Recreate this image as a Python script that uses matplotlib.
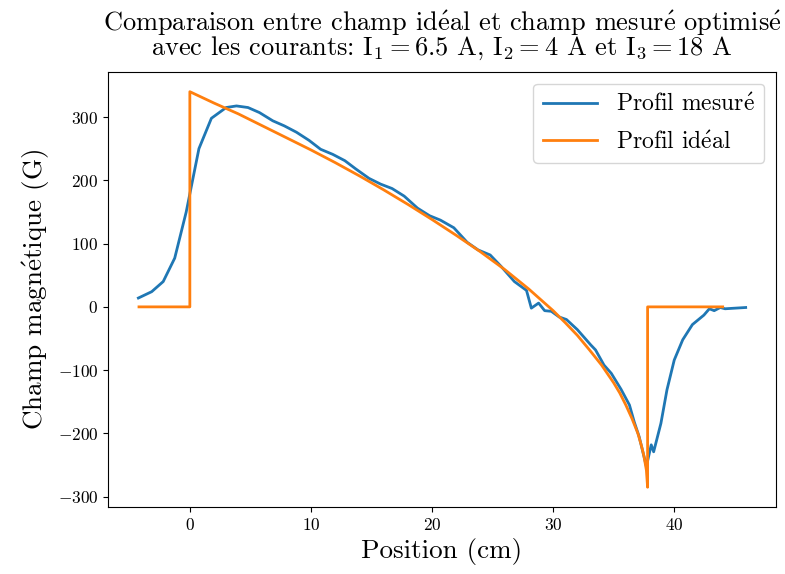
import matplotlib
matplotlib.use("Agg")
import matplotlib.pyplot as plt

plt.rcParams['font.family'] = ['cmr10', 'DejaVu Serif']
plt.rcParams['mathtext.fontset'] = 'cm'
plt.rcParams['axes.formatter.use_mathtext'] = True

# profil mesuré (position en cm, champ en G)
pos_mesure = [-4.25, -3.15, -2.2, -1.25, -0.3, 0.75, 1.78, 3.0, 3.85, 4.8,
              5.75, 6.85, 7.8, 8.8, 9.85, 10.8, 11.8, 12.8, 13.7, 14.8,
              15.75, 16.7, 17.7, 18.8, 19.8, 20.7, 21.8, 22.9, 23.8, 24.8,
              25.7, 26.8, 27.8, 28.2, 28.8, 29.3, 29.85, 30.5, 31.1, 32.0,
              33.1, 33.5, 34.2, 34.8, 35.6, 36.3, 36.7, 37.1, 37.7, 38.1,
              38.3, 38.9, 39.4, 40.0, 40.7, 41.5, 42.45, 42.9, 43.3, 43.8,
              44.2, 45.9]
champ_mesure = [14, 24, 40, 77, 150, 250, 298, 315, 317.5, 315,
                307, 294, 286, 276, 263, 249, 241, 231, 218, 203,
                194, 187, 175, 156, 144, 137, 125, 102, 90, 82,
                64, 40, 26, -2, 6, -6, -7, -16, -20, -36,
                -60, -68, -92, -105, -130, -155, -182, -205, -252, -218,
                -229, -184, -131, -84, -52, -28, -13, -3, -6, -1,
                -3, -1]

# profil idéal
pos_ideal = [-4.2, 0, 0, 2, 4, 6, 8, 10, 12, 14, 16, 18, 20, 22, 24, 26, 28,
             30, 31, 32, 33, 34, 35, 35.5, 36, 36.5, 37, 37.3, 37.5, 37.7,
             37.8, 37.8, 44.0]
champ_ideal = [0, 0, 340, 322, 305, 286, 267, 248, 228, 207, 185, 162, 138,
               113, 87, 59, 28, -6, -25, -45, -68, -92, -120, -136, -155,
               -176, -200, -220, -236, -258, -285, 0, 0]

E = r"$\mathrm{\acute{e}}$"  # é en police Computer Modern

fig = plt.figure(figsize=(7.85, 5.74), dpi=100)
ax = fig.add_axes([0.1376, 0.1167, 0.851, 0.758])
ax.plot(pos_mesure, champ_mesure, lw=2, label="Profil mesur" + E)
ax.plot(pos_ideal, champ_ideal, lw=2, label="Profil id" + E + "al")

ax.set_xlabel("Position (cm)", fontsize=19.5)
ax.set_ylabel("Champ magn" + E + "tique (G)", fontsize=19.5)
ax.set_title("Comparaison entre champ id" + E + "al et champ mesur" + E + " optimis" + E + "\n"
             r"avec les courants: $\mathrm{I}_1 = 6.5$ A, $\mathrm{I}_2 = 4$ A et $\mathrm{I}_3 = 18$ A",
             fontsize=19, linespacing=0.85, pad=12)
ax.tick_params(labelsize=12.5)
ax.legend(loc='upper right', fontsize=17, handlelength=2.3, labelspacing=0.65)

plt.savefig("out.png")
plt.close(fig)
